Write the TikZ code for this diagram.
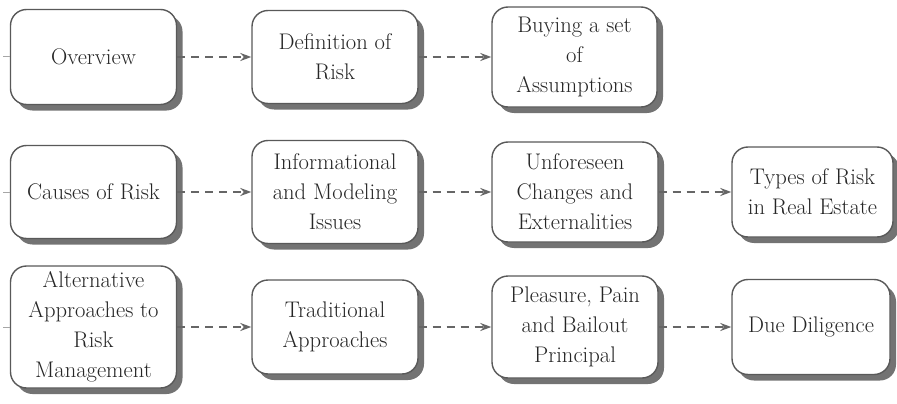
\documentclass[tikz,border=0pt]{standalone}
\usetikzlibrary{arrows.meta,shadows}

\tikzset{
  topic/.style={draw=black!65, line width=1.4pt, rounded corners=16pt, fill=white,
    drop shadow={shadow xshift=6pt, shadow yshift=-6pt, fill=black!55, opacity=1},
    align=center, text=black!85, font=\fontsize{22.6}{30}\selectfont,
    minimum width=166pt, inner sep=2pt},
  link/.style={draw=black!60, line width=1.6pt, dash pattern=on 8pt off 6pt},
  openlink/.style={link, -{Stealth[open, length=11pt, width=8pt]}},
  fulllink/.style={link, -{Stealth[length=11pt, width=8pt]}},
  stub/.style={draw=black!35, line width=1pt},
}

\begin{document}
\begin{tikzpicture}[x=1pt,y=-1pt]
  \useasboundingbox (0,0) rectangle (897,404);

  % row 1
  \node[topic, minimum height=95pt]  (ov)  at (93.5,57)  {Overview};
  \node[topic, minimum height=93pt]  (def) at (335,57)   {Definition of\\Risk};
  \node[topic, minimum height=100pt, minimum width=165pt] (buy) at (574.5,57) {Buying a set\\of\\Assumptions};

  % row 2
  \node[topic, minimum height=93pt]  (cau) at (93.5,192) {Causes of Risk};
  \node[topic, minimum height=103pt] (inf) at (335,192)  {Informational\\and Modeling\\Issues};
  \node[topic, minimum height=100pt] (unf) at (575,192)  {Unforeseen\\Changes and\\Externalities};
  \node[topic, minimum height=90pt, minimum width=161pt] (typ) at (812.5,192) {Types of Risk\\in Real Estate};

  % row 3
  \node[topic, minimum height=122pt] (alt) at (93.5,327) {Alternative\\Approaches to\\Risk\\Management};
  \node[topic, minimum height=94pt]  (tra) at (335,327)  {Traditional\\Approaches};
  \node[topic, minimum height=102pt] (ple) at (575,327)  {Pleasure, Pain\\and Bailout\\Principal};
  \node[topic, minimum height=95pt, minimum width=158pt] (due) at (811,327) {Due Diligence};

  % short stubs on the left
  \coordinate (ovin)  at (3,57);
  \coordinate (cauin) at (3,192);
  \coordinate (altin) at (3,327);
  \draw[stub] (ovin) -- (ov);
  \draw[stub] (cauin) -- (cau);
  \draw[stub] (altin) -- (alt);

  % links
  \draw[openlink] (ov) -- (def);
  \draw[fulllink] (def) -- (buy);
  \draw[openlink] (cau) -- (inf);
  \draw[openlink] (inf) -- (unf);
  \draw[fulllink] (unf) -- (typ);
  \draw[openlink] (alt) -- (tra);
  \draw[openlink] (tra) -- (ple);
  \draw[fulllink] (ple) -- (due);
\end{tikzpicture}
\end{document}
